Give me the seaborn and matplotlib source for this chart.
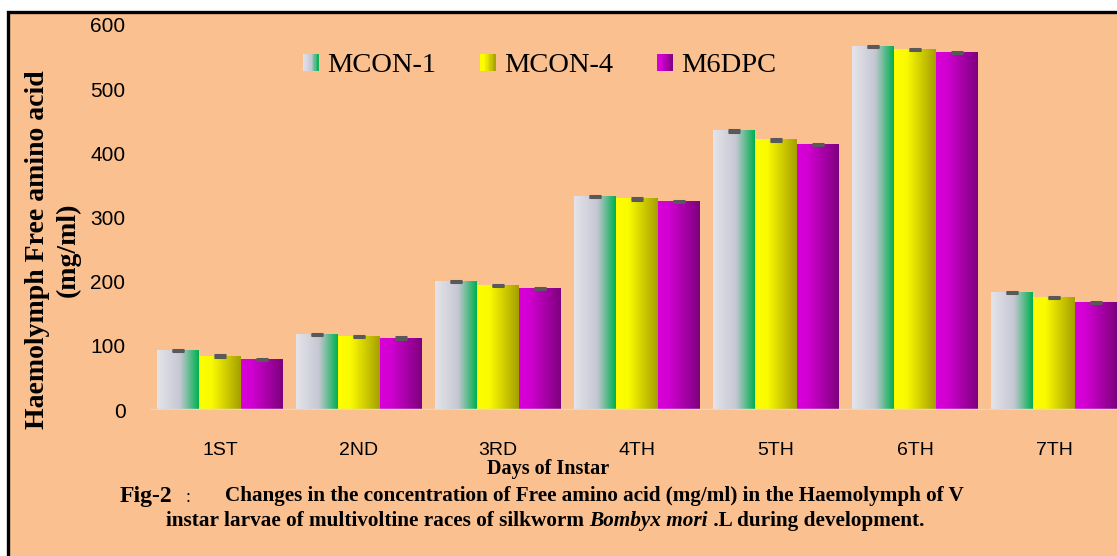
import numpy as np
import pandas as pd
import matplotlib
matplotlib.use("Agg")
import matplotlib.pyplot as plt
import seaborn as sns
from matplotlib.colors import LinearSegmentedColormap
from matplotlib.patches import Rectangle, Patch
from matplotlib.legend_handler import HandlerBase

# data
stages = ['1ST', '2ND', '3RD', '4TH', '5TH', '6TH', '7TH']
races = ['MCON-1', 'MCON-4', 'M6DPC']
mcon1 = [93, 118, 200, 333, 435, 567, 183]
mcon4 = [84, 115, 194, 329, 421, 562, 175]
m6dpc = [79, 112, 189, 325, 414, 557, 168]
errors = [1.2, 1.0, 1.0, 1.0, 1.0, 1.0, 1.0]

df = pd.DataFrame({
    'stage': stages * 3,
    'race': [r for r in races for _ in stages],
    'value': mcon1 + mcon4 + m6dpc,
})

# horizontal gradients used by each race
grads = {
    'MCON-1': LinearSegmentedColormap.from_list('g1', [(0, '#E4E4EA'), (0.55, '#C5C7D3'), (1, '#00B050')]),
    'MCON-4': LinearSegmentedColormap.from_list('g2', [(0, '#FFFF00'), (0.3, '#FAFA00'), (1, '#A6A000')]),
    'M6DPC': LinearSegmentedColormap.from_list('g3', [(0, '#D800D8'), (0.25, '#D200D2'), (1, '#7E007E')]),
}
ramp = np.linspace(0, 1, 64).reshape(1, -1)

W, H = 1117, 556
fig = plt.figure(figsize=(W / 100, H / 100), dpi=100)
fig.patch.set_facecolor('white')

# peach panel with black frame (right / bottom edges fall outside the image)
fig.add_artist(Rectangle((8 / W, -0.1), 1.2, (H - 12) / H + 0.1, transform=fig.transFigure,
                         facecolor='#FAC090', edgecolor='black', linewidth=2.4, zorder=0))

ax = fig.add_axes([150.5 / W, (H - 410) / H, 973 / W, 385 / H])
ax.set_facecolor('none')

sns.barplot(data=df, x='stage', y='value', hue='race', order=stages, hue_order=races,
            width=0.9, legend=False, ax=ax, errorbar=None)

centers, tops = [], []
for cont, race in zip(ax.containers, races):
    for p in cont.patches:
        x, w, h = p.get_x(), p.get_width(), p.get_height()
        p.set_facecolor('none')
        p.set_edgecolor('none')
        ax.imshow(ramp, extent=[x, x + w, 0, h], cmap=grads[race], aspect='auto',
                  interpolation='bilinear', zorder=2)
        centers.append(x + w / 2)
        tops.append(h)

ax.errorbar(centers, tops, yerr=errors * 3, fmt='none', ecolor='#595959',
            elinewidth=0, capsize=4.5, capthick=2.2, zorder=4)

ax.axhline(0, color='#D9D9D9', lw=2.5, zorder=3)
ax.set_xlim(-0.5, len(stages) - 0.5)
ax.set_ylim(0, 600)
ax.set_yticks(range(0, 601, 100))
for s in ax.spines.values():
    s.set_visible(False)
ax.tick_params(axis='y', length=0, pad=18, labelsize=15)
ax.tick_params(axis='x', length=0, pad=23, labelsize=14)
for t in ax.get_yticklabels():
    t.set_family(['Liberation Sans', 'DejaVu Sans'])
for t in ax.get_xticklabels():
    t.set_family(['Liberation Sans', 'DejaVu Sans'])
ax.set_xlabel('')
ax.set_ylabel('')

serif = ['Liberation Serif', 'DejaVu Serif']

fig.text(38 / W, 1 - 250 / H, 'Haemolymph Free amino acid', rotation=90, ha='center', va='center',
         family=serif, weight='bold', fontsize=20)
fig.text(68 / W, 1 - 250 / H, '(mg/ml)', rotation=90, ha='center', va='center',
         family=serif, weight='bold', fontsize=20)

fig.text(548 / W, 1 - 469 / H, 'Days of Instar', ha='center', va='center',
         family=serif, weight='bold', fontsize=14.5)


# legend with small gradient squares
class GradHandler(HandlerBase):
    def create_artists(self, legend, orig_handle, xdescent, ydescent, width, height, fontsize, trans):
        cmap = grads[orig_handle.get_label()]
        n = 12
        arts = []
        for i in range(n):
            r = Rectangle((-xdescent + width * i / n, -ydescent), width / n + 0.2, height,
                          facecolor=cmap((i + 0.5) / n), edgecolor='none', transform=trans)
            arts.append(r)
        return arts


handles = [Patch(label=r) for r in races]
fig.legend(handles=handles, loc='center left', bbox_to_anchor=(277 / W, 1 - 66 / H), ncol=3,
           frameon=False, prop={'family': serif, 'size': 20.5}, handlelength=0.55, handleheight=0.55,
           handletextpad=0.3, columnspacing=1.55, handler_map={Patch: GradHandler()})

# caption, built piece by piece so the species name can be italic
renderer = fig.canvas.get_renderer()


def put_line(parts, x0, y):
    x = x0
    for txt, kw in parts:
        t = fig.text(x / W, 1 - y / H, txt, ha='left', va='baseline', family=serif, weight='bold', **kw)
        bb = t.get_window_extent(renderer)
        x += bb.width


fig.text(120 / W, 1 - 502 / H, 'Fig-2', ha='left', va='baseline', family=serif, weight='bold', fontsize=17)
fig.text(186 / W, 1 - 502 / H, ':', ha='left', va='baseline', family=serif, fontsize=13)
put_line([('Changes in the concentration of Free amino acid (mg/ml) in the Haemolymph of V', {'fontsize': 15.2})],
         225, 501)
put_line([('instar larvae of multivoltine races of silkworm ', {'fontsize': 15.3}),
          ('Bombyx mori', {'fontsize': 15.3, 'style': 'italic'}),
          (' .L during development.', {'fontsize': 15.3})],
         166, 526)

fig.savefig('out.png', dpi=100)
